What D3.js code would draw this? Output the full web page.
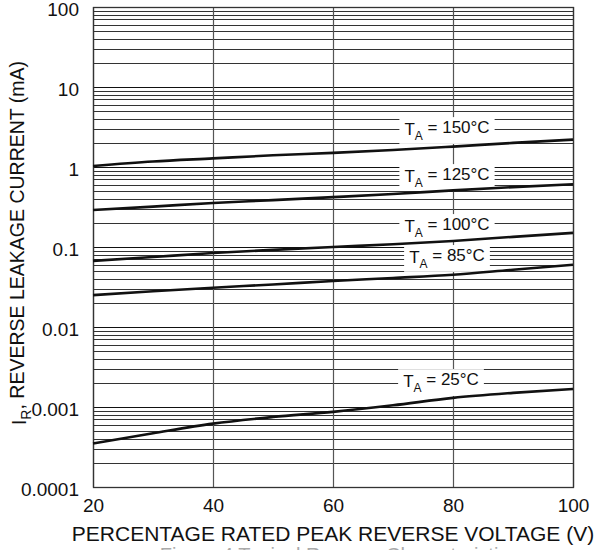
<!DOCTYPE html>
<html>
<head>
<meta charset="utf-8">
<script src="https://cdn.jsdelivr.net/npm/d3@7"></script>
<style>
  body { margin: 0; background: #fff; }
  svg { display: block; font-family: Arial, "Liberation Sans", sans-serif; }
</style>
</head>
<body>
<svg id="chart"></svg>
<script>
// Reverse voltage in percent of rated peak
var voltage = [20, 30, 40, 50, 60, 70, 80, 90, 100];

// Leakage current (mA), one array per ambient temperature
var current150 = [1.03, 1.17, 1.28, 1.4, 1.5, 1.63, 1.8, 2.0, 2.2];
var current125 = [0.29, 0.32, 0.355, 0.385, 0.42, 0.46, 0.51, 0.56, 0.61];
var current100 = [0.067, 0.075, 0.084, 0.092, 0.1, 0.108, 0.119, 0.134, 0.15];
var current85 = [0.025, 0.028, 0.031, 0.034, 0.0376, 0.041, 0.045, 0.052, 0.06];
var current25 = [0.00035, 0.00047, 0.00062, 0.00075, 0.00087, 0.00105, 0.0013, 0.0015, 0.00168];

var seriesNames = ["150", "125", "100", "85", "25"];
var seriesValues = [current150, current125, current100, current85, current25];

// label anchors (percent, mA)
var labelX = [79, 79, 79, 79, 78];
var labelY = [2.9, 0.75, 0.178, 0.073, 0.00205];

var xTicks = [20, 40, 60, 80, 100];
var yTicks = [0.0001, 0.001, 0.01, 0.1, 1, 10, 100];
var yTickLabels = ["0.0001", "0.001", "0.01", "0.1", "1", "10", "100"];

var svgWidth = 602;
var svgHeight = 550;
var margin = { top: 7, right: 29, bottom: 63, left: 93 };
var chartWidth = svgWidth - margin.left - margin.right;
var chartHeight = svgHeight - margin.top - margin.bottom;

var svg = d3.select("#chart")
  .attr("width", svgWidth)
  .attr("height", svgHeight);

var chart = svg.append("g")
  .attr("transform", "translate(" + margin.left + "," + margin.top + ")");

var xScale = d3.scaleLinear().domain([20, 100]).range([0, chartWidth]);
var yScale = d3.scaleLog().domain([0.0001, 100]).range([chartHeight, 0]);

// minor + major horizontal grid
var gridValues = [];
yTicks.slice(0, -1).forEach(function (d) {
  for (var k = 2; k <= 9; k++) gridValues.push(d * k);
});
chart.selectAll(".hminor")
  .data(gridValues)
  .enter()
  .append("line")
  .attr("class", "hminor")
  .attr("x1", 0)
  .attr("x2", chartWidth)
  .attr("y1", function (d) { return Math.round(yScale(d)) + 0.5; })
  .attr("y2", function (d) { return Math.round(yScale(d)) + 0.5; })
  .attr("stroke", "#333")
  .attr("stroke-width", 1);

chart.selectAll(".hmajor")
  .data(yTicks)
  .enter()
  .append("line")
  .attr("class", "hmajor")
  .attr("x1", 0)
  .attr("x2", chartWidth)
  .attr("y1", function (d) { return Math.round(yScale(d)) + 0.5; })
  .attr("y2", function (d) { return Math.round(yScale(d)) + 0.5; })
  .attr("stroke", "#111")
  .attr("stroke-width", 1);

// vertical grid
chart.selectAll(".vgrid")
  .data(xTicks)
  .enter()
  .append("line")
  .attr("class", "vgrid")
  .attr("x1", function (d) { return Math.round(xScale(d)) + 0.5; })
  .attr("x2", function (d) { return Math.round(xScale(d)) + 0.5; })
  .attr("y1", 0)
  .attr("y2", chartHeight)
  .attr("stroke", "#555")
  .attr("stroke-width", 1.2);

// frame
chart.append("rect")
  .attr("x", 0.5)
  .attr("y", 0.5)
  .attr("width", chartWidth)
  .attr("height", chartHeight)
  .attr("fill", "none")
  .attr("stroke", "#333")
  .attr("stroke-width", 1.3);

// axes (text only)
var yAxis = chart.append("g")
  .attr("class", "axis")
  .call(d3.axisLeft(yScale).tickValues(yTicks)
    .tickFormat(function (d, i) { return yTickLabels[i]; })
    .tickSize(0).tickPadding(14));
yAxis.selectAll("text").attr("dy", "0.45em");
var xAxis = chart.append("g")
  .attr("class", "axis")
  .attr("transform", "translate(0," + chartHeight + ")")
  .call(d3.axisBottom(xScale).tickValues(xTicks).tickSize(0).tickPadding(12));
chart.selectAll(".axis .domain").remove();
chart.selectAll(".axis text")
  .style("font-size", "19px")
  .style("font-family", "Arial, 'Liberation Sans', sans-serif")
  .attr("fill", "#111");

// temperature labels
var labels = chart.selectAll(".tlabel")
  .data(seriesNames)
  .enter()
  .append("g")
  .attr("class", "tlabel")
  .attr("transform", function (d, i) {
    return "translate(" + xScale(labelX[i]) + "," + yScale(labelY[i]) + ")";
  });

labels.each(function (d) {
  var g = d3.select(this);
  var rect = g.append("rect").attr("fill", "#fff");
  var t = g.append("text")
    .attr("text-anchor", "middle")
    .attr("dy", "0.3em")
    .style("font-size", "17px")
    .attr("fill", "#111");
  t.append("tspan").text("T");
  t.append("tspan").attr("dy", "0.4em").style("font-size", "12px").text("A");
  t.append("tspan").attr("dy", "-0.4em").text(" = " + d + "\u00B0C");
  var bb = t.node().getBBox();
  rect.attr("x", bb.x - 5).attr("y", bb.y - 1)
    .attr("width", bb.width + 10).attr("height", bb.height + 2);
});

// curves
var line = d3.line()
  .x(function (d, i) { return xScale(voltage[i]); })
  .y(function (d) { return yScale(d); })
  .curve(d3.curveMonotoneX);

chart.selectAll(".curve")
  .data(seriesValues)
  .enter()
  .append("path")
  .attr("class", "curve")
  .attr("d", line)
  .attr("fill", "none")
  .attr("stroke", "#111")
  .attr("stroke-width", 2.6);

// axis titles
svg.append("text")
  .attr("x", 333)
  .attr("y", 541)
  .attr("text-anchor", "middle")
  .style("font-size", "21px")
  .attr("fill", "#111")
  .text("PERCENTAGE RATED PEAK REVERSE VOLTAGE (V)");

var yTitle = svg.append("text")
  .attr("transform", "translate(26,243) rotate(-90)")
  .attr("text-anchor", "middle")
  .style("font-size", "19.5px")
  .attr("fill", "#111");
yTitle.append("tspan").text("I");
yTitle.append("tspan").attr("dy", "0.35em").style("font-size", "14px").text("R");
yTitle.append("tspan").attr("dy", "-0.35em").text(", REVERSE LEAKAGE CURRENT (mA)");

// caption, mostly cut off by the frame as in the source figure
svg.append("text")
  .attr("x", 339)
  .attr("y", 562)
  .attr("text-anchor", "middle")
  .style("font-size", "20px")
  .attr("fill", "#aaa")
  .text("Figure 4 Typical Reverse Characteristics");
</script>
</body>
</html>
